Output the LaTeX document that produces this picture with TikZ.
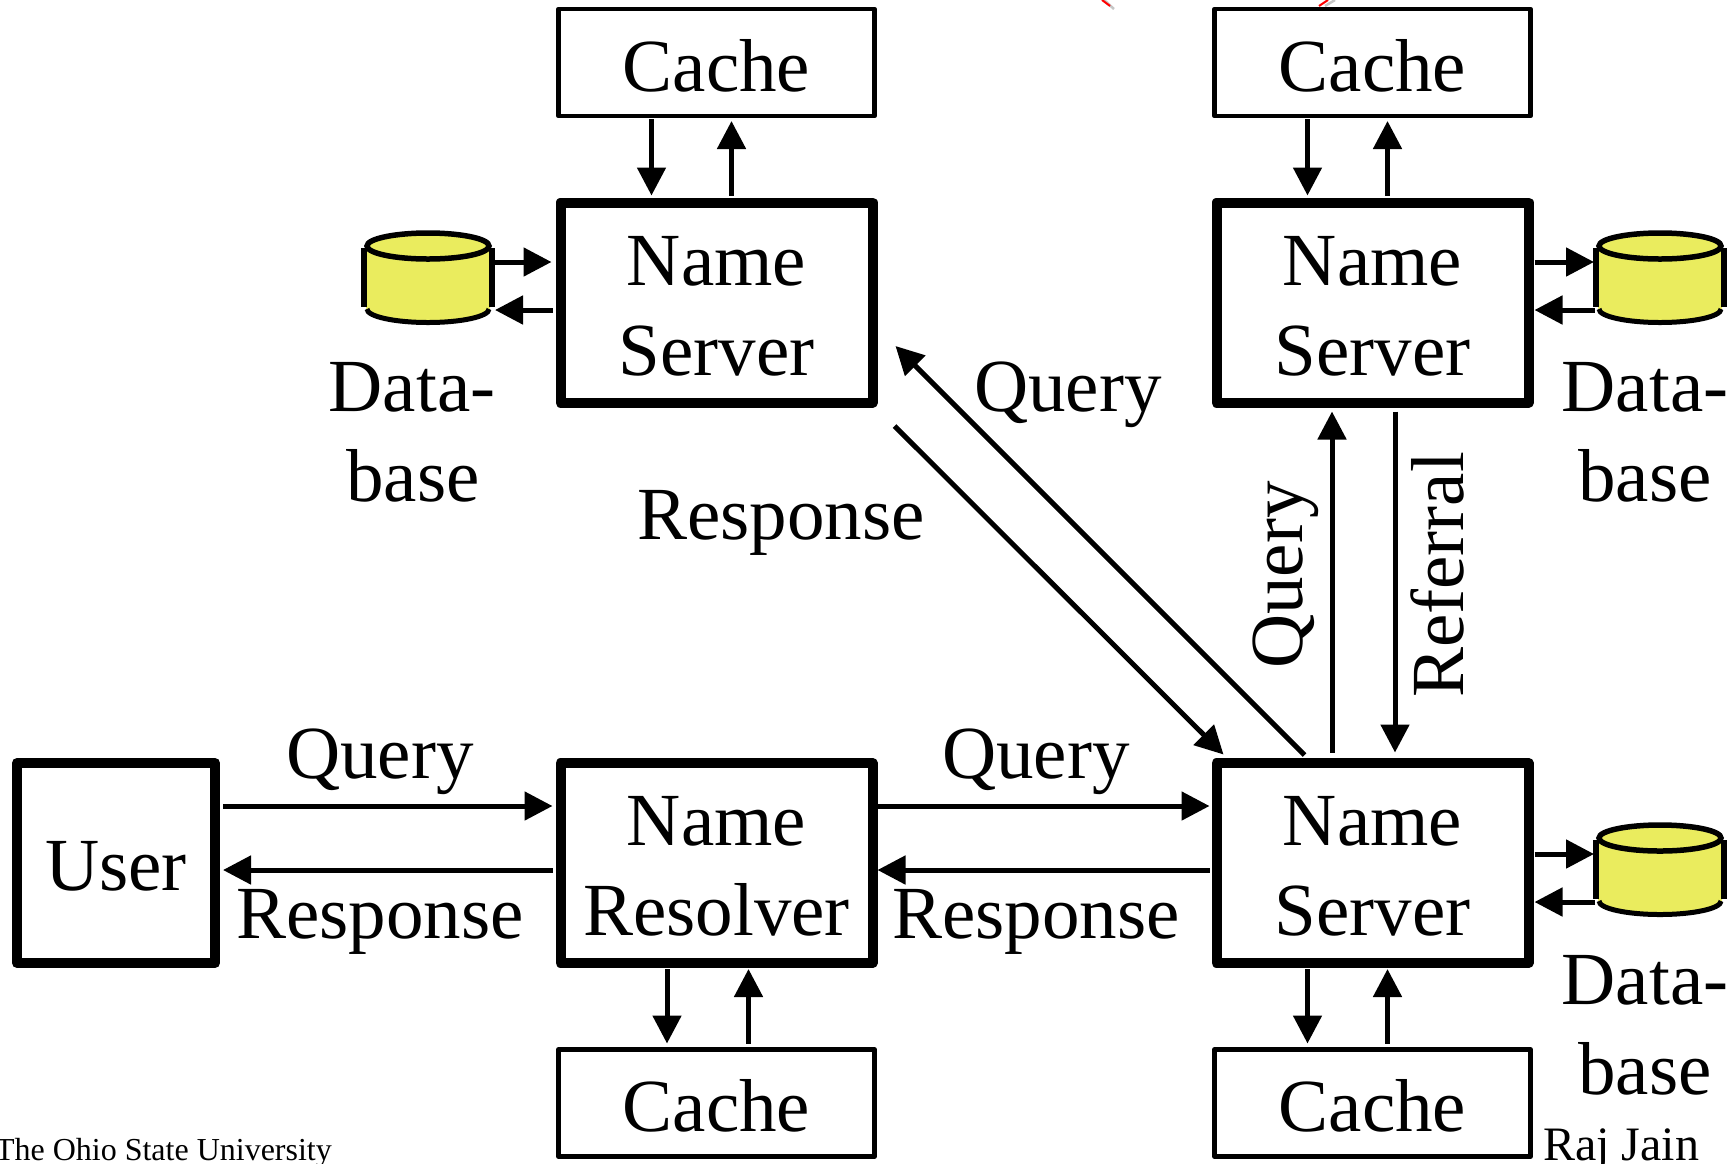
\documentclass[tikz,border=0pt]{standalone}
\usepackage{fontspec}
\setmainfont{Liberation Serif}
\usetikzlibrary{arrows.meta,shapes.geometric}
\definecolor{dbyellow}{HTML}{EAEC5E}
\tikzset{
  x=1pt,y=-1pt,
  bigtext/.style={font=\fontsize{75}{90}\selectfont},
  lab/.style={bigtext,anchor=base,inner sep=0pt,outer sep=0pt},
  thickbox/.style={draw=black,line width=10pt,line join=round,minimum width=312pt,minimum height=200pt,inner sep=0pt,outer sep=0pt,align=center,bigtext},
  cachebox/.style={draw=black,line width=4.5pt,line join=round,minimum width=316pt,minimum height=107pt,inner sep=0pt,outer sep=0pt,bigtext},
  link/.style={line width=5pt,-{Triangle[length=28pt,width=28pt]}},
  dbline/.style={line width=5.5pt,black},
  footer/.style={anchor=base west,inner sep=0pt,outer sep=0pt},
}
\newcommand{\topstrut}{\rule{0pt}{56pt}}
\newcommand{\cachestrut}{\rule{0pt}{58pt}}
\newcommand{\dbcyl}[3]{%
  \fill[dbyellow] (#2-62,#3) -- (#2-62,#3+62) arc[start angle=180,end angle=360,x radius=62,y radius=-14] -- (#2+62,#3) -- cycle;
  \node[draw=black,fill=dbyellow,line width=5.5pt,ellipse,minimum width=122pt,minimum height=26pt,inner sep=0pt,outer sep=0pt] (#1) at (#2,#3) {};
  \draw[dbline] (#2-64,#3+2) -- (#2-64,#3+61);
  \draw[dbline] (#2+64,#3+2) -- (#2+64,#3+61);
  \draw[dbline,line width=5pt] (#2-61,#3+63) arc[start angle=180,end angle=360,x radius=61,y radius=-13.5];
}
\begin{document}
\begin{tikzpicture}
\useasboundingbox (0,0) rectangle (1734,1163);
\clip (0,0) rectangle (1734,1163);
% stray marks at the top
\draw[gray!45,line width=2.5pt] (1104,0) -- (1114,9);
\draw[red,line width=2pt] (1102,0) -- (1110,6);
\draw[gray!45,line width=2.5pt] (1335,0) -- (1325,6);
\draw[red,line width=2pt] (1328,0) -- (1319,6);
% boxes
\node[cachebox] (cTL) at (716.5,62.5) {\cachestrut Cache};
\node[cachebox] (cTR) at (1372.5,62.5) {\cachestrut Cache};
\node[cachebox] (cBL) at (716.5,1103) {\cachestrut Cache};
\node[cachebox] (cBR) at (1372.5,1103) {\cachestrut Cache};
\node[thickbox] (nTL) at (716.5,302.5) {\topstrut Name\\Server};
\node[thickbox] (nTR) at (1372.5,302.5) {\topstrut Name\\Server};
\node[thickbox] (nBR) at (1372.5,863) {\topstrut Name\\Server};
\node[thickbox] (res) at (716.5,863) {\topstrut Name\\Resolver};
\node[thickbox,minimum width=198pt] (user) at (116,863) {\rule{0pt}{55pt}User};
% cylinders
\dbcyl{dbL}{428}{246}
\dbcyl{dbR}{1660}{246}
\dbcyl{dbB}{1660}{838}
% cache links
\draw[link] ([xshift=-65pt,yshift=-3pt]cTL.south) -- ([xshift=-65pt,yshift=7pt]nTL.north);
\draw[link] ([xshift=15pt,yshift=7pt]nTL.north) -- ([xshift=15pt,yshift=-5pt]cTL.south);
\draw[link] ([xshift=-65pt,yshift=-3pt]cTR.south) -- ([xshift=-65pt,yshift=7pt]nTR.north);
\draw[link] ([xshift=15pt,yshift=7pt]nTR.north) -- ([xshift=15pt,yshift=-5pt]cTR.south);
\draw[link] ([xshift=-49.5pt,yshift=-6pt]res.south) -- ([xshift=-49.5pt,yshift=6pt]cBL.north);
\draw[link] ([xshift=32pt,yshift=6pt]cBL.north) -- ([xshift=32pt,yshift=-6pt]res.south);
\draw[link] ([xshift=-65pt,yshift=-6pt]nBR.south) -- ([xshift=-65pt,yshift=6pt]cBR.north);
\draw[link] ([xshift=15pt,yshift=6pt]cBR.north) -- ([xshift=15pt,yshift=-6pt]nBR.south);
% database links
\draw[link] ([xshift=6pt,yshift=-16pt]dbL.east) -- ([xshift=-9pt,yshift=40.5pt]nTL.west);
\draw[link] ([xshift=-8pt,yshift=-7.5pt]nTL.west) -- ([xshift=6pt,yshift=-64pt]dbL.east);
\draw[link] ([xshift=6pt,yshift=40.5pt]nTR.east) -- ([xshift=-5pt,yshift=-16pt]dbR.west);
\draw[link] ([xshift=-4pt,yshift=-64pt]dbR.west) -- ([xshift=6pt,yshift=-7.5pt]nTR.east);
\draw[link] ([xshift=6pt,yshift=9pt]nBR.east) -- ([xshift=-5pt,yshift=-16pt]dbB.west);
\draw[link] ([xshift=-4pt,yshift=-64pt]dbB.west) -- ([xshift=6pt,yshift=-39pt]nBR.east);
% main links
\draw[link] ([xshift=8pt,yshift=57pt]user.east) -- ([xshift=-8pt,yshift=57pt]res.west);
\draw[link] ([xshift=-8pt,yshift=-7pt]res.west) -- ([xshift=8pt,yshift=-7pt]user.east);
\draw[link] ([xshift=5pt,yshift=57pt]res.east) -- ([xshift=-7pt,yshift=57pt]nBR.west);
\draw[link] ([xshift=-7pt,yshift=-7pt]nBR.west) -- ([xshift=5pt,yshift=-7pt]res.east);
\draw[link] ([xshift=-68pt,yshift=8pt]nBR.north) -- ([xshift=23pt,yshift=-43.5pt]nTL.east);
\draw[link] ([xshift=22pt,yshift=-123.5pt]nTL.east) -- ([xshift=-149pt,yshift=8.5pt]nBR.north);
\draw[link] ([xshift=-40.5pt,yshift=10.5pt]nBR.north) -- ([xshift=-40.5pt,yshift=-9pt]nTR.south);
\draw[link] ([xshift=22.5pt,yshift=-9pt]nTR.south) -- ([xshift=22.5pt,yshift=10.5pt]nBR.north);
% labels
\node[lab] (l1) at (1068,411) {Query};
\node[lab] (l2) at (781,539) {Response};
\node[lab] (l3) at (412,411) {Data-};
\node[lab] (l4) at (413,501) {base};
\node[lab] (l5) at (1645,411) {Data-};
\node[lab] (l6) at (1645,501) {base};
\node[lab] (l7) at (1645,1004) {Data-};
\node[lab] (l8) at (1645,1094) {base};
\node[lab] (l9) at (380,778) {Query};
\node[lab] (l10) at (380,938) {Response};
\node[lab] (l11) at (1036,778) {Query};
\node[lab] (l12) at (1036,938) {Response};
\node[lab,rotate=90] (l13) at (1302,575) {Query};
\node[lab,rotate=90] (l14) at (1463,575) {Referral};
\node[footer,font=\fontsize{32}{36}\selectfont] (f1) at (-5,1160) {The Ohio State University};
\node[footer,font=\fontsize{48}{50}\selectfont] (f2) at (1543,1160) {Raj Jain};
\end{tikzpicture}
\end{document}
